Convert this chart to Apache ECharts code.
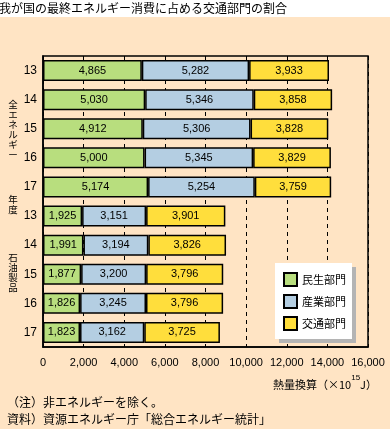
<!DOCTYPE html>
<html><head><meta charset="utf-8">
<script src="https://cdn.jsdelivr.net/npm/echarts@6/dist/echarts.min.js"></script>
<style>html,body{margin:0;padding:0;background:#fff}#c{width:390px;height:429px}</style>
</head><body><div id="c"></div>
<script>
// ---- data ----
const yearLabels = ['13', '14', '15', '16', '17'];
const groupNames = ['全エネルギー', '石油製品'];
const sectorNames = ['民生部門', '産業部門', '交通部門'];
const allMinsei = [4865, 5030, 4912, 5000, 5174];
const allSangyo = [5282, 5346, 5306, 5345, 5254];
const allKotsu  = [3933, 3858, 3828, 3829, 3759];
const oilMinsei = [1925, 1991, 1877, 1826, 1823];
const oilSangyo = [3151, 3194, 3200, 3245, 3162];
const oilKotsu  = [3901, 3826, 3796, 3796, 3725];
const xTicks = [0, 2000, 4000, 6000, 8000, 10000, 12000, 14000, 16000];

const categories = [];
groupNames.forEach((g) => yearLabels.forEach((y) => categories.push(g + '|' + y)));
const sectorData = [
  allMinsei.concat(oilMinsei),
  allSangyo.concat(oilSangyo),
  allKotsu.concat(oilKotsu)
];
const colors = ['#B8DE7E', '#B4CEE2', '#FFDE3C'];
const fmt = (v) => Number(v).toLocaleString('en-US');

const chart = echarts.init(document.getElementById('c'), null, {renderer: 'canvas'});
// vertical (tategaki) label: one stacked character per 10px step
const vtext = (s, cy) => ({
  type: 'group',
  children: s.split('').map((ch, k) => ({
    type: 'text', x: 13, y: cy + k * 10,
    style: {text: ch, font: '9.5px "Noto Sans CJK JP"', fill: '#000', align: 'center', verticalAlign: 'middle'}
  }))
});
chart.setOption({
  backgroundColor: '#FFE4C4',
  animation: false,
  title: {
    text: '我が国の最終エネルギー消費に占める交通部門の割合',
    left: -1, top: 2, padding: 0,
    textStyle: {fontFamily: 'Noto Sans CJK JP', fontSize: 12, fontWeight: 'normal', color: '#000'}
  },
  graphic: [
    {type: 'rect', left: 0, top: 0, shape: {width: 390, height: 17}, style: {fill: '#fff'}, z: 0},
    vtext(groupNames[0], 104),
    vtext('年度', 199),
    vtext(groupNames[1], 257),
    {type: 'text', left: 273, top: 374, style: {
      text: '{a|熱量換算（×10}{s|15}{a|J）}',
      rich: {
        a: {fontFamily: 'Noto Sans CJK JP', fontSize: 11, fill: '#000', color: '#000', verticalAlign: 'bottom', lineHeight: 16},
        s: {fontFamily: 'Liberation Sans', fontSize: 8, fill: '#000', color: '#000', verticalAlign: 'top', lineHeight: 10, padding: [0, 0, 6, 0]}
      }
    }},
    {type: 'text', left: 7, top: 396, style: {text: '（注）非エネルギーを除く。', font: '12px "Noto Sans CJK JP"', fill: '#000'}},
    {type: 'text', left: 7, top: 413, style: {text: '資料）資源エネルギー庁「総合エネルギー統計」', font: '12px "Noto Sans CJK JP"', fill: '#000'}}
  ],
  legend: {
    orient: 'vertical', left: 275, top: 263,
    padding: [9, 6, 8, 8], itemGap: 7, itemWidth: 13, itemHeight: 13,
    icon: 'rect',
    backgroundColor: '#fff',
    shadowColor: '#B4B4B4', shadowBlur: 0, shadowOffsetX: 4, shadowOffsetY: 4,
    textStyle: {fontFamily: 'Noto Sans CJK JP', fontSize: 11, color: '#000'},
    data: sectorNames
  },
  grid: {
    left: 43, right: 22, top: 56, bottom: 82,
    show: true, borderColor: '#000', borderWidth: 1.5, backgroundColor: 'transparent'
  },
  xAxis: {
    type: 'value', min: xTicks[0], max: xTicks[xTicks.length - 1], interval: 2000,
    axisLine: {show: true, lineStyle: {color: '#000', width: 1.5}},
    axisTick: {show: false},
    splitLine: {show: true, lineStyle: {color: '#000', width: 1, type: [4, 4]}},
    axisLabel: {formatter: fmt, margin: 10, fontFamily: 'Liberation Sans', fontSize: 11, color: '#000'}
  },
  yAxis: {
    type: 'category', inverse: true, data: categories,
    axisLine: {show: true, lineStyle: {color: '#000', width: 1.5}},
    axisTick: {show: false},
    axisLabel: {formatter: (v) => v.split('|')[1], margin: 6, fontFamily: 'Liberation Sans', fontSize: 12, color: '#000'}
  },
  series: sectorNames.map((name, i) => ({
    name: name, type: 'bar', stack: 'total', barCategoryGap: '28%',
    data: sectorData[i],
    itemStyle: {color: colors[i], borderColor: '#000', borderWidth: 1.5},
    label: {show: true, position: 'inside', formatter: (p) => fmt(p.value), fontFamily: 'Liberation Sans', fontSize: 11, color: '#000'}
  }))
});
</script></body></html>
